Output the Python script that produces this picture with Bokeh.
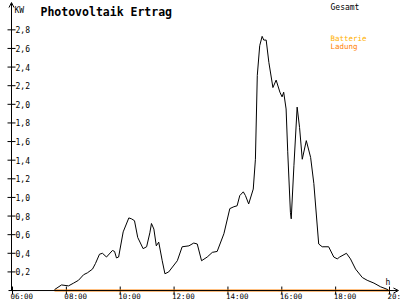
from bokeh.plotting import figure
from bokeh.models import Range1d, Arrow, OpenHead, Label
from bokeh.core.properties import value
from bokeh.embed import file_html
from bokeh.resources import INLINE

# ---- data (hours of day, kW) ----
hours = [7.56, 7.82, 8.08, 8.27, 8.45, 8.64, 8.78, 8.97, 9.08, 9.23, 9.34, 9.49,
         9.71, 9.79, 9.86, 9.94, 10.11, 10.32, 10.42, 10.53, 10.65, 10.85, 10.98,
         11.10, 11.16, 11.25, 11.34, 11.43, 11.56, 11.66, 11.80, 12.12, 12.30,
         12.55, 12.73, 12.86, 13.02, 13.23, 13.42, 13.60, 13.85, 14.07, 14.22,
         14.34, 14.44, 14.57, 14.65, 14.77, 14.94, 15.02, 15.09, 15.18, 15.27,
         15.33, 15.42, 15.52, 15.67, 15.79, 15.93, 16.01, 16.07, 16.16, 16.22,
         16.32, 16.35, 16.45, 16.57, 16.66, 16.76, 16.91, 17.07, 17.19, 17.37,
         17.50, 17.74, 17.93, 18.06, 18.15, 18.40, 18.55, 18.74, 18.99, 19.17,
         19.42, 19.67, 19.94]
gesamt_kw = [0.01, 0.06, 0.05, 0.08, 0.11, 0.17, 0.19, 0.23, 0.29, 0.39, 0.40, 0.36,
             0.43, 0.42, 0.35, 0.36, 0.63, 0.78, 0.77, 0.75, 0.57, 0.45, 0.47,
             0.62, 0.72, 0.66, 0.48, 0.52, 0.32, 0.18, 0.20, 0.32, 0.47,
             0.48, 0.51, 0.50, 0.32, 0.36, 0.41, 0.42, 0.61, 0.88, 0.90,
             0.91, 1.02, 1.06, 1.02, 0.93, 1.09, 1.41, 2.31, 2.63, 2.73,
             2.69, 2.69, 2.45, 2.18, 2.26, 2.13, 2.08, 2.13, 1.95, 1.49,
             0.84, 0.77, 1.34, 1.97, 1.75, 1.41, 1.61, 1.43, 1.15, 0.50,
             0.47, 0.47, 0.36, 0.34, 0.36, 0.40, 0.34, 0.23, 0.14, 0.11,
             0.08, 0.04, 0.01]
ladung_hours = [7.56, 20.0]
ladung_kw = [0.0, 0.0]

y_ticks = [0.2, 0.4, 0.6, 0.8, 1.0, 1.2, 1.4, 1.6, 1.8, 2.0, 2.2, 2.4, 2.6, 2.8]
y_tick_labels = ["0,2", "0,4", "0,6", "0,8", "1,0", "1,2", "1,4", "1,6", "1,8",
                 "2,0", "2,2", "2,4", "2,6", "2,8"]
x_ticks = [6, 8, 10, 12, 14, 16, 18, 20]
x_tick_labels = ["06:00", "08:00", "10:00", "12:00", "14:00", "16:00", "18:00", "20:"]

title_text = "Photovoltaik Ertrag"
unit_y = "KW"
unit_x = "h"
legend_labels = ["Gesamt", "Batterie", "Ladung"]

# ---- styles ----
FONT = "DejaVu Sans Mono"
C_GESAMT = "#000000"
C_BATTERIE = "#ffb000"
C_LADUNG = "#ff8000"

X0, X1 = 5.554, 20.408
Y0, Y1 = -0.107, 3.115
AXIS_X = 5.9625

p = figure(width=400, height=300, x_range=Range1d(X0, X1), y_range=Range1d(Y0, Y1),
           output_backend="svg", toolbar_location=None, min_border=0)
p.xaxis.visible = False
p.yaxis.visible = False
p.xgrid.visible = False
p.ygrid.visible = False
p.outline_line_color = None
p.background_fill_color = "white"
p.border_fill_color = "white"

# axes with arrows
p.add_layout(Arrow(end=OpenHead(size=5, line_width=1, line_color="black"),
                   x_start=AXIS_X, y_start=0, x_end=AXIS_X, y_end=3.093,
                   line_color="black", line_width=1))
p.add_layout(Arrow(end=OpenHead(size=5, line_width=1, line_color="black"),
                   x_start=AXIS_X, y_start=0, x_end=20.333, y_end=0,
                   line_color="black", line_width=1))

# ticks
p.scatter(x=[AXIS_X] * len(y_ticks), y=y_ticks, marker="cross", size=8,
          line_color="black", line_width=1)
p.scatter(x=x_ticks, y=[0] * len(x_ticks), marker="cross", size=8,
          line_color="black", line_width=1)

# tick labels
p.text(x=[AXIS_X] * len(y_ticks), y=y_ticks, text=y_tick_labels, x_offset=4,
       text_align="left", text_baseline="middle", text_font=value(FONT),
       text_font_size="8px", text_color="black")
p.text(x=x_ticks, y=[0] * len(x_ticks), text=x_tick_labels, x_offset=-2, y_offset=6,
       text_align="left", text_baseline="alphabetic", text_font=value(FONT),
       text_font_size="7.5px", text_color="black")

# series
p.line(ladung_hours, ladung_kw, line_color=C_LADUNG, line_width=2)
p.line(hours, gesamt_kw, line_color=C_GESAMT, line_width=1)

# texts
def lab(txt, x, y, color="black", size="8px", style="normal"):
    p.add_layout(Label(x=x, y=y, x_units="screen", y_units="screen", text=txt,
                       text_font=FONT, text_font_size=size, text_color=color,
                       text_font_style=style, text_baseline="alphabetic",
                       text_align="left"))

lab(title_text, 40, 289, size="11.5px", style="bold")
lab(unit_y, 14, 290)
lab(unit_x, 385, 18)
lab(legend_labels[0], 330, 293, C_GESAMT)
lab(legend_labels[1], 330, 262, C_BATTERIE, size="7.5px")
lab(legend_labels[2], 330, 254.5, C_LADUNG, size="7.5px")

open("out.html", "w").write(file_html(p, INLINE))
